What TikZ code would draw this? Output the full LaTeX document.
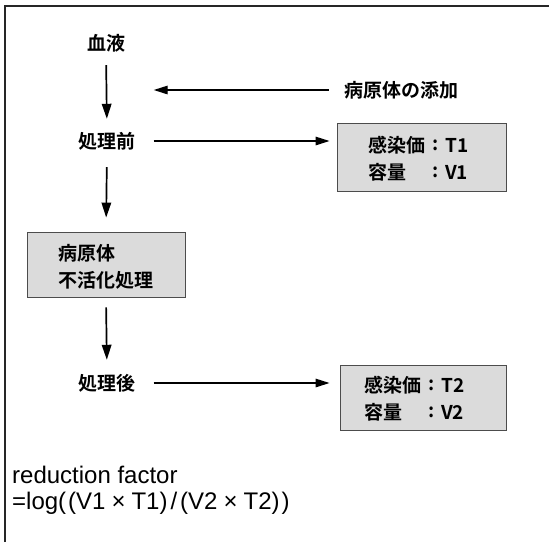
\documentclass[tikz,border=0pt]{standalone}
\usepackage{fontspec}
\setmainfont{Liberation Sans}
\newfontfamily\jp{Noto Sans CJK JP Bold}
\usetikzlibrary{arrows.meta}
\tikzset{
  lbl/.style={font=\jp\fontsize{19pt}{22pt}\selectfont, inner sep=0pt},
  varr/.style={line width=1.7pt, -{Triangle[length=15pt,width=9.5pt]}},
  harr/.style={line width=1.4pt, -{Triangle[length=14pt,width=8.5pt]}},
  gbox/.style={draw=black!70, line width=0.9pt, fill=black!14, inner sep=0pt},
  frm/.style={line width=1.6pt, draw=black!85}
}
\begin{document}
\begin{tikzpicture}[x=1pt,y=-1pt]
\useasboundingbox (0,0) rectangle (549,542);
\draw[frm] (5,542) -- (5,6) -- (549,6);
% column
\node[lbl] (blood) at (106,43) {血液};
\node[lbl] (add) at (401,90) {病原体の添加};
\node[lbl] (pre) at (107,141) {処理前};
\node[gbox, minimum width=169pt, minimum height=68pt] (box1) at (421.5,157) {};
\node[lbl, anchor=west] (b1a) at (368,145) {感染価};
\node[lbl] (b1ac) at (436,145) {:};
\node[lbl, anchor=west] (b1av) at (445,145) {T1};
\node[lbl, anchor=west] (b1b) at (368,172) {容量};
\node[lbl] (b1bc) at (436,172) {:};
\node[lbl, anchor=west] (b1bv) at (445,172) {V1};
\node[gbox, minimum width=158pt, minimum height=65pt] (inact) at (106,264.5) {};
\node[lbl, anchor=west] (in1) at (58,253) {病原体};
\node[lbl, anchor=west] (in2) at (58,280) {不活化処理};
\node[lbl] (post) at (107,383) {処理後};
\node[gbox, minimum width=166pt, minimum height=65pt] (box2) at (423,397.5) {};
\node[lbl, anchor=west] (b2a) at (364,385) {感染価};
\node[lbl] (b2ac) at (432,385) {:};
\node[lbl, anchor=west] (b2av) at (441,385) {T2};
\node[lbl, anchor=west] (b2b) at (364,412) {容量};
\node[lbl] (b2bc) at (432,412) {:};
\node[lbl, anchor=west] (b2bv) at (441,412) {V2};
\node[anchor=north west, align=left, inner sep=0pt, font=\fontsize{24pt}{26pt}\selectfont] (rf) at (12,466)
  {reduction factor\\=log(\hspace{2pt}(V1\hspace{6pt}\texttimes\hspace{6pt}T1)\hspace{3pt}/\hspace{3pt}(V2\hspace{6pt}\texttimes\hspace{6pt}T2)\hspace{2pt})};
% connectors
\draw[varr, shorten <=13pt, shorten >=13pt] (blood.south) -- (pre.north);
\draw[harr, shorten <=15pt, shorten >=18pt] (add.west) -- (add.west -| pre.east);
\draw[harr, shorten <=18pt, shorten >=7pt] (pre.east) -- (pre.east -| box1.west);
\draw[varr, shorten <=17pt, shorten >=14pt] (pre.south) -- (inact.north);
\draw[varr, shorten <=10pt, shorten >=14pt] (inact.south) -- (post.north);
\draw[harr, shorten <=18pt, shorten >=10pt] (post.east) -- (post.east -| box2.west);
\end{tikzpicture}
\end{document}
